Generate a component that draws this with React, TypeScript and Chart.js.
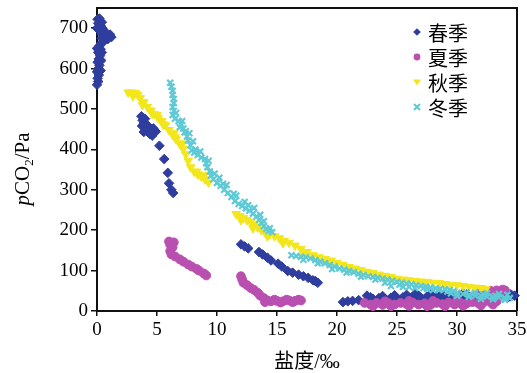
import React, { useEffect, useRef } from 'react';
import { Chart, registerables } from 'chart.js';

Chart.register(...registerables);

const seriesNames = ['春季', '夏季', '秋季', '冬季'];
const seriesColors = ['#2f3e9e', '#b94fb0', '#f3e61c', '#5fcad6'];
const xTickValues = [0, 5, 10, 15, 20, 25, 30, 35];
const yTickValues = [0, 100, 200, 300, 400, 500, 600, 700];
const xTitle = '盐度/‰';
const yTitleParts = ['p', 'CO', '2', '/Pa'];

// 春季 (salinity, pCO2)
const springPoints: number[][] = [
  [0.0, 560], [0.1, 568], [0.05, 576], [0.15, 584], [0.0, 592], [0.1, 600], [0.2, 608], [0.05, 616],
  [0.15, 624], [0.25, 632], [0.1, 640], [0.3, 648], [0.2, 656], [0.35, 663], [0.6, 668], [0.9, 673],
  [1.2, 678], [1.1, 684], [0.8, 688], [0.5, 692], [0.3, 697], [0.15, 702], [0.3, 707], [0.1, 712],
  [0.25, 717], [0.05, 722], [0.2, 724], [0.4, 685], [0.4, 675], [0.0, 650], [0.0, 700], [0.45, 700], [0.4, 715],
  [0.35, 620], [0.3, 595], [0.4, 640],
  [3.7, 482], [3.8, 472], [3.9, 465], [3.75, 458], [4.0, 452], [4.1, 447], [3.9, 443], [4.3, 450],
  [4.5, 446], [4.7, 452], [4.9, 444], [4.4, 438], [4.6, 434], [4.2, 460], [4.0, 476],
  [5.2, 409], [5.6, 376], [5.9, 342], [6.0, 316], [6.2, 300], [6.35, 292],
  [12.0, 165], [12.3, 160], [12.6, 155], [13.5, 146], [13.8, 140], [14.2, 132], [14.5, 125], [15.1, 117],
  [15.4, 110], [15.9, 99], [16.3, 95], [16.8, 90], [17.2, 86], [17.6, 82], [18.0, 76], [18.4, 70], [18.2, 74],
  [20.5, 22], [20.9, 24], [21.3, 25], [21.8, 27], [22.6, 28], [23.0, 30], [23.5, 32], [24.0, 30],
  [24.5, 33], [25.0, 31], [25.5, 34], [26.0, 32], [26.5, 35], [27.0, 33], [27.5, 36], [28.0, 34],
  [28.5, 37], [29.0, 35], [29.5, 38], [30.0, 36], [30.5, 38], [31.0, 36], [31.5, 39], [32.0, 37],
  [32.5, 35], [33.0, 33], [33.5, 36], [34.0, 38], [34.5, 41], [34.8, 38], [23.0, 22], [24.0, 24],
  [25.0, 25], [26.0, 24], [27.0, 26], [28.0, 25], [29.0, 27], [30.0, 28], [31.0, 28], [32.0, 27],
  [33.0, 29], [22.5, 38], [26.5, 42], [28.5, 43], [30.5, 44], [32.5, 30], [34.2, 33],
  [22.8, 34], [23.3, 26], [23.8, 37], [24.3, 27], [24.8, 39], [25.3, 28], [25.8, 40], [26.3, 28],
  [26.8, 38], [27.3, 29], [27.8, 41], [28.3, 30], [28.8, 40], [29.3, 31], [29.8, 42], [30.3, 32],
  [30.8, 41], [31.3, 32], [31.8, 42], [32.3, 33], [32.8, 40], [33.3, 31], [33.8, 40], [34.4, 36],
];

// 夏季
const summerPoints: number[][] = [
  [6.0, 172], [6.4, 170], [6.1, 164], [6.3, 158], [6.1, 148], [6.2, 140], [6.5, 135], [6.9, 128],
  [7.2, 122], [7.6, 115], [7.9, 110], [8.3, 104], [8.5, 100], [8.9, 93], [9.1, 88],
  [12.0, 86], [12.1, 78], [12.2, 70], [12.5, 64], [12.8, 57], [13.1, 52], [13.4, 45], [13.6, 38],
  [13.9, 32], [14.2, 26], [14.0, 22], [14.5, 24], [15.0, 25], [15.5, 24], [16.0, 26], [16.5, 25],
  [17.0, 26], [14.8, 28], [15.8, 28], [16.8, 28], [15.3, 21], [16.3, 22],
  [22.3, 20], [22.8, 16], [23.3, 20], [23.8, 15], [24.3, 19], [24.8, 16], [25.3, 20], [25.8, 17],
  [26.3, 21], [26.8, 16], [27.3, 19], [27.8, 15], [28.3, 20], [28.8, 17], [29.3, 21], [29.8, 16],
  [30.3, 20], [30.8, 18], [31.3, 22], [31.8, 19], [32.3, 23], [32.8, 22], [33.3, 24], [24.0, 24],
  [26.0, 25], [28.0, 25], [30.0, 26], [27.5, 12],
  [23.0, 12], [24.5, 12], [26.0, 13], [29.0, 12], [30.5, 13], [32.0, 14], [33.0, 16],
  [31.8, 46], [32.3, 48], [32.8, 50], [33.3, 51], [33.8, 53], [34.0, 51],
];

// 秋季
const autumnPoints: number[][] = [
  [2.6, 541], [2.9, 541], [3.2, 540], [3.4, 535], [3.6, 527], [3.9, 517], [4.2, 505], [4.5, 496],
  [4.8, 487], [5.1, 478], [5.4, 470], [5.7, 460], [6.0, 448], [6.3, 437], [6.6, 425], [6.9, 414],
  [7.2, 402], [7.4, 388], [7.6, 372], [7.8, 356], [8.1, 345], [8.4, 338], [8.7, 333], [9.0, 326],
  [9.3, 318], [5.0, 485], [6.5, 430], [7.0, 410],
  [3.0, 532], [3.8, 510], [4.6, 488], [5.5, 462], [6.4, 440], [7.1, 415], [8.3, 345], [8.9, 336],
  [11.6, 240], [11.9, 235], [12.2, 230], [12.5, 225], [12.8, 220], [13.1, 213], [13.4, 207], [13.7, 200],
  [14.0, 195], [14.4, 190], [14.8, 185], [15.2, 180], [15.6, 174], [16.0, 169], [16.5, 162], [17.0, 154],
  [17.5, 146], [18.0, 138], [18.5, 133], [19.0, 129], [19.5, 125], [20.0, 119], [20.5, 114], [21.0, 109],
  [21.5, 105], [22.0, 101], [22.5, 97], [23.0, 94], [23.5, 90], [24.0, 87], [24.5, 84], [25.0, 80],
  [25.5, 78], [26.0, 76], [26.5, 74], [27.0, 73], [27.5, 72], [28.0, 70], [28.5, 69], [29.0, 67],
  [29.5, 65], [30.0, 64], [30.5, 62], [31.0, 60], [31.5, 58], [32.0, 57], [32.4, 54],
  [12.0, 225], [13.0, 205], [14.2, 185], [15.5, 168], [17.2, 142], [19.2, 122], [21.2, 103], [23.2, 88],
];

// 冬季
const winterPoints: number[][] = [
  [6.1, 565], [6.2, 555], [6.3, 545], [6.3, 535], [6.4, 525], [6.4, 515], [6.3, 505], [6.4, 495],
  [6.3, 485], [6.5, 476], [6.8, 470], [7.0, 462], [7.2, 452], [7.3, 442], [7.5, 432], [7.6, 422],
  [7.8, 410], [7.9, 398], [8.1, 392], [8.4, 386], [8.7, 380], [9.0, 376], [9.1, 366], [9.2, 356],
  [9.4, 345], [9.5, 335], [9.7, 326], [10.0, 317], [10.3, 310], [10.6, 300], [10.9, 292], [11.2, 282],
  [11.5, 272], [11.8, 265], [12.1, 260], [12.4, 254], [12.7, 248], [13.0, 241], [13.3, 234], [13.5, 226],
  [13.7, 218], [13.9, 210], [14.1, 203], [14.3, 198], [14.6, 195],
  [6.9, 455], [7.4, 445], [8.2, 400], [9.8, 340], [10.5, 315], [11.4, 290], [12.6, 262], [13.6, 238],
  [6.6, 490], [7.1, 470], [7.7, 440], [8.0, 420], [8.6, 395], [9.3, 372], [10.2, 330], [10.8, 312],
  [11.6, 285], [12.3, 270], [13.1, 255], [13.9, 222], [14.4, 205],
  [16.2, 138], [16.6, 136], [17.0, 134], [17.4, 133], [17.8, 130], [18.2, 126], [18.6, 122], [19.0, 118],
  [19.4, 114], [19.8, 110], [20.2, 105], [20.6, 102], [21.0, 99], [21.4, 96], [21.8, 92], [22.2, 89],
  [22.6, 86], [23.0, 84], [23.4, 82], [23.8, 80], [24.2, 78], [24.6, 75], [25.0, 72], [25.4, 70],
  [25.8, 68], [26.2, 66], [26.6, 64], [27.0, 62], [27.4, 60], [27.8, 58], [28.2, 56], [28.6, 55],
  [29.0, 54], [29.4, 52], [29.7, 49], [30.0, 45], [30.5, 42], [31.0, 40], [31.5, 38], [32.0, 37],
  [32.5, 36], [33.0, 35], [33.5, 34], [34.0, 33], [34.4, 32], [24.5, 62], [25.5, 60], [26.5, 57],
  [27.5, 55], [28.5, 52], [29.5, 44], [30.0, 38], [31.0, 35],
  [31.5, 45], [32.5, 44], [33.5, 42], [34.2, 40], [32.0, 30], [33.0, 29], [34.0, 28],
  [17.2, 127], [18.4, 118], [19.6, 104], [20.8, 95], [22.0, 85], [23.2, 78], [24.0, 70], [25.2, 65],
  [26.0, 60], [27.2, 57], [28.0, 52], [29.2, 48], [30.8, 46], [32.2, 41], [33.2, 38],
];

const seriesPoints = [springPoints, summerPoints, autumnPoints, winterPoints];
const pointStyles = ['rectRot', 'circle', 'triangle', 'crossRot'];
const pointRadii = [4.8, 4.4, 5, 4.2];
const pointRotations = [0, 0, 180, 0];

const toXY = (arr: number[][]) => arr.map(([x, y]) => ({ x, y }));

function drawLegendMarker(ctx: CanvasRenderingContext2D, i: number, x: number, y: number) {
  const c = seriesColors[i];
  ctx.fillStyle = c;
  ctx.strokeStyle = c;
  ctx.beginPath();
  if (i === 0) {
    const r = 3.8;
    ctx.moveTo(x, y - r); ctx.lineTo(x + r, y); ctx.lineTo(x, y + r); ctx.lineTo(x - r, y);
    ctx.closePath(); ctx.fill();
  } else if (i === 1) {
    ctx.arc(x, y, 3.4, 0, Math.PI * 2); ctx.fill();
  } else if (i === 2) {
    const r = 4;
    ctx.moveTo(x - r, y - r * 0.6); ctx.lineTo(x + r, y - r * 0.6); ctx.lineTo(x, y + r * 0.9);
    ctx.closePath(); ctx.fill();
  } else {
    const r = 3;
    ctx.lineWidth = 2;
    ctx.moveTo(x - r, y - r); ctx.lineTo(x + r, y + r);
    ctx.moveTo(x + r, y - r); ctx.lineTo(x - r, y + r);
    ctx.stroke();
  }
}

export default function App() {
  const ref = useRef<HTMLCanvasElement>(null);

  useEffect(() => {
    if (!ref.current) return;

    const framePlugin = {
      id: 'frameBox',
      beforeDatasetsDraw(chart: any) {
        const { ctx, chartArea } = chart;
        ctx.save();
        ctx.strokeStyle = '#111';
        ctx.lineWidth = 2;
        ctx.beginPath();
        ctx.moveTo(chartArea.left, chartArea.top);
        ctx.lineTo(chartArea.right, chartArea.top);
        ctx.lineTo(chartArea.right, chartArea.bottom);
        ctx.stroke();
        ctx.restore();
      },
    };

    const yTitlePlugin = {
      id: 'yTitleRich',
      afterDraw(chart: any) {
        const ctx: CanvasRenderingContext2D = chart.ctx;
        const size = 21;
        const fonts = [
          `italic ${size}px "Liberation Serif"`,
          `${size}px "Liberation Serif"`,
          `${Math.round(size * 0.62)}px "Liberation Serif"`,
          `${size}px "Liberation Serif"`,
        ];
        const dys = [0, 0, size * 0.22, 0];
        ctx.save();
        let total = 0;
        const widths = yTitleParts.map((t, i) => {
          ctx.font = fonts[i];
          const w = ctx.measureText(t).width;
          total += w;
          return w;
        });
        ctx.translate(28.5, 169);
        ctx.rotate(-Math.PI / 2);
        ctx.fillStyle = '#000';
        ctx.textBaseline = 'alphabetic';
        ctx.textAlign = 'left';
        let x = -total / 2;
        yTitleParts.forEach((t, i) => {
          ctx.font = fonts[i];
          ctx.fillText(t, x, dys[i]);
          x += widths[i];
        });
        ctx.restore();
      },
    };

    const legendPlugin = {
      id: 'insideLegend',
      afterDraw(chart: any) {
        const ctx: CanvasRenderingContext2D = chart.ctx;
        const rows = [32, 57, 82, 107];
        ctx.save();
        seriesNames.forEach((name, i) => {
          drawLegendMarker(ctx, i, 417, rows[i]);
          ctx.fillStyle = '#000';
          ctx.font = '20px "Noto Sans CJK SC"';
          ctx.textBaseline = 'middle';
          ctx.textAlign = 'left';
          ctx.fillText(name, 428, rows[i] + 1);
        });
        ctx.restore();
      },
    };

    const tickFont = { family: '"Liberation Serif"', size: 19 };

    const chart = new Chart(ref.current, {
      type: 'scatter',
      data: {
        datasets: seriesNames.map((name, i) => ({
          label: name,
          data: toXY(seriesPoints[i]),
          pointStyle: pointStyles[i] as any,
          pointRadius: pointRadii[i],
          pointRotation: pointRotations[i],
          backgroundColor: seriesColors[i],
          borderColor: seriesColors[i],
          borderWidth: i === 3 ? 2.2 : 1,
          order: 3 - i,
          clip: false as any,
        })),
      },
      options: {
        responsive: false,
        animation: false,
        layout: { padding: { left: 0, top: 8, right: 10, bottom: 0 } },
        plugins: {
          legend: { display: false },
          tooltip: { enabled: false },
        },
        scales: {
          x: {
            type: 'linear',
            min: 0,
            max: 35,
            afterBuildTicks: (s: any) => { s.ticks = xTickValues.map((v) => ({ value: v })); },
            afterFit: (s: any) => { s.height = 62; s.paddingLeft = 0; s.paddingRight = 0; },
            ticks: { font: tickFont, color: '#000', padding: 3, maxRotation: 0, autoSkip: false },
            grid: { drawOnChartArea: false, drawTicks: true, tickLength: 5, color: '#111', lineWidth: 1.5 },
            border: { display: true, color: '#111', width: 2 },
            title: {
              display: true,
              text: xTitle,
              color: '#000',
              font: { family: '"Liberation Serif", "Noto Sans CJK SC"', size: 20, lineHeight: 1 },
              padding: { top: 0, bottom: 0 },
            },
          },
          y: {
            type: 'linear',
            min: 0,
            max: 750,
            afterBuildTicks: (s: any) => { s.ticks = yTickValues.map((v) => ({ value: v })); },
            afterFit: (s: any) => { s.width = 97; s.paddingTop = 0; s.paddingBottom = 0; },
            ticks: { font: tickFont, color: '#000', padding: 3, autoSkip: false },
            grid: { drawOnChartArea: false, drawTicks: true, tickLength: 6, color: '#111', lineWidth: 1.5 },
            border: { display: true, color: '#111', width: 2 },
            title: { display: false },
          },
        },
      },
      plugins: [framePlugin, yTitlePlugin, legendPlugin],
    } as any);

    return () => chart.destroy();
  }, []);

  return (
    <div style={{ position: 'absolute', left: 0, top: 0, width: 527, height: 373, background: '#fff' }}>
      <canvas ref={ref} width={527} height={373} style={{ display: 'block' }} />
    </div>
  );
}
